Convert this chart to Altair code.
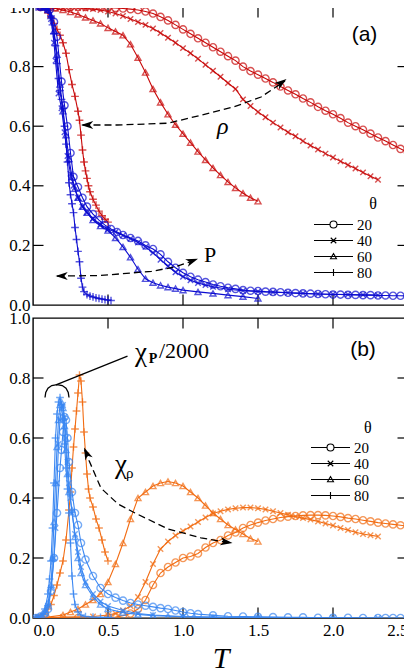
import altair as alt
import pandas as pd

RED = "#c80808"
BLUE = "#0c0cd0"
ORANGE = "#f26c12"
LBLUE = "#3a87f2"

THETAS = ["20", "40", "60", "80"]

# ---------------- panel (a): rho (red) ----------------
RHO20_T = [0.05,0.1,0.15,0.2,0.25,0.3,0.35,0.4,0.45,0.5,0.55,0.6,0.65,0.7,0.75,0.8,0.85,0.9,0.95,1.0,1.05,1.1,1.15,1.2,1.25,1.3,1.35,1.4,1.45,1.5,1.55,1.6,1.65,1.7,1.75,1.8,1.85,1.9,1.95,2.0,2.05,2.1,2.15,2.2,2.25,2.3,2.35,2.4,2.45,2.5]
RHO20 = [1.0,1.0,1.0,1.0,1.0,1.0,1.0,1.0,0.999,0.998,0.997,0.995,0.993,0.99,0.985,0.978,0.967,0.955,0.94,0.925,0.91,0.895,0.88,0.865,0.85,0.835,0.82,0.80,0.785,0.773,0.76,0.747,0.733,0.72,0.707,0.693,0.68,0.665,0.652,0.64,0.627,0.612,0.60,0.588,0.575,0.562,0.55,0.537,0.524,0.512]

RHO40_T = [0.05,0.1,0.15,0.2,0.25,0.3,0.35,0.4,0.45,0.5,0.55,0.6,0.65,0.7,0.75,0.8,0.85,0.9,0.95,1.0,1.05,1.1,1.15,1.2,1.25,1.3,1.35,1.4,1.45,1.5,1.55,1.6,1.65,1.7,1.75,1.8,1.85,1.9,1.95,2.0,2.05,2.1,2.15,2.2,2.25,2.3]
RHO40 = [1.0,1.0,1.0,0.999,0.998,0.997,0.995,0.993,0.99,0.985,0.978,0.97,0.96,0.95,0.94,0.928,0.913,0.897,0.88,0.862,0.845,0.826,0.806,0.786,0.766,0.745,0.725,0.69,0.668,0.648,0.63,0.612,0.596,0.58,0.566,0.55,0.535,0.522,0.508,0.495,0.482,0.47,0.458,0.445,0.432,0.42]

RHO60_T = [0.05,0.1,0.15,0.2,0.25,0.3,0.35,0.4,0.45,0.5,0.55,0.6,0.65,0.7,0.75,0.8,0.85,0.9,0.95,1.0,1.05,1.1,1.15,1.2,1.25,1.3,1.35,1.4,1.45,1.5]
RHO60 = [1.0,0.998,0.995,0.99,0.983,0.975,0.965,0.955,0.945,0.93,0.918,0.905,0.875,0.83,0.78,0.725,0.68,0.64,0.605,0.575,0.545,0.515,0.487,0.46,0.436,0.413,0.393,0.375,0.36,0.348]

RHO80_T = [0.05,0.08,0.1,0.12,0.14,0.16,0.18,0.2,0.22,0.24,0.26,0.28,0.3,0.31,0.32,0.33,0.34,0.35,0.36,0.37,0.38,0.4,0.42,0.44,0.46,0.48,0.5]
RHO80 = [1.0,0.993,0.98,0.965,0.945,0.925,0.905,0.88,0.845,0.79,0.74,0.7,0.65,0.62,0.57,0.52,0.48,0.45,0.425,0.4,0.38,0.355,0.335,0.315,0.3,0.288,0.278]

# ---------------- panel (a): P (blue) ----------------
P20_T = [0.05,0.08,0.11,0.14,0.16,0.19,0.21,0.23,0.25,0.27,0.3,0.33,0.36,0.4,0.44,0.48,0.52,0.56,0.6,0.65,0.7,0.75,0.8,0.85,0.9,0.95,1.0,1.05,1.1,1.15,1.2,1.25,1.3,1.35,1.4,1.45,1.5,1.55,1.6,1.65,1.7,1.75,1.8,1.85,1.9,1.95,2.0,2.05,2.1,2.15,2.2,2.25,2.3,2.35,2.4,2.45,2.5]
P20 = [1.0,1.0,0.99,0.95,0.9,0.75,0.67,0.6,0.51,0.43,0.396,0.36,0.33,0.305,0.285,0.268,0.255,0.245,0.235,0.225,0.215,0.2,0.188,0.17,0.145,0.125,0.108,0.095,0.085,0.077,0.069,0.063,0.058,0.054,0.05,0.048,0.047,0.045,0.044,0.043,0.041,0.04,0.039,0.038,0.037,0.036,0.035,0.035,0.034,0.034,0.033,0.033,0.032,0.032,0.031,0.031,0.03]

P40_T = [0.05,0.08,0.1,0.12,0.14,0.15,0.17,0.19,0.21,0.23,0.25,0.27,0.3,0.33,0.36,0.4,0.45,0.5,0.55,0.6,0.65,0.7,0.75,0.8,0.85,0.9,0.95,1.0,1.05,1.1,1.15,1.2,1.3,1.4,1.5,1.6,1.7,1.8,1.9,2.0,2.1,2.2,2.3]
P40 = [1.0,0.998,0.99,0.96,0.88,0.82,0.71,0.66,0.58,0.5,0.44,0.4,0.36,0.33,0.31,0.29,0.27,0.255,0.245,0.233,0.222,0.21,0.195,0.175,0.152,0.13,0.11,0.095,0.083,0.074,0.067,0.061,0.053,0.048,0.045,0.043,0.041,0.039,0.037,0.036,0.035,0.034,0.033]

P60_T = [0.05,0.08,0.1,0.12,0.14,0.16,0.18,0.2,0.22,0.24,0.26,0.28,0.3,0.33,0.36,0.4,0.45,0.5,0.55,0.6,0.65,0.7,0.75,0.8,0.85,0.9,0.95,1.0,1.1,1.2,1.3,1.4,1.5]
P60 = [1.0,1.0,0.99,0.97,0.92,0.84,0.74,0.65,0.57,0.49,0.43,0.39,0.36,0.33,0.31,0.285,0.265,0.25,0.225,0.195,0.16,0.12,0.088,0.075,0.066,0.06,0.055,0.05,0.044,0.039,0.033,0.028,0.022]

P80_T = [0.02,0.05,0.08,0.1,0.12,0.13,0.14,0.15,0.16,0.17,0.18,0.19,0.2,0.21,0.22,0.23,0.24,0.25,0.26,0.27,0.28,0.29,0.3,0.31,0.32,0.33,0.34,0.36,0.38,0.4,0.42,0.44,0.46,0.48,0.5,0.52]
P80 = [1.0,1.0,0.998,0.99,0.97,0.94,0.91,0.87,0.81,0.76,0.72,0.69,0.66,0.6,0.54,0.48,0.41,0.37,0.34,0.31,0.26,0.22,0.18,0.145,0.09,0.06,0.045,0.035,0.03,0.027,0.024,0.022,0.02,0.018,0.017,0.015]

# ---------------- panel (b): chi_rho (orange) ----------------
XR20_T = [0.05,0.3,0.5,0.55,0.6,0.65,0.7,0.75,0.8,0.85,0.9,0.95,1.0,1.05,1.1,1.15,1.2,1.25,1.3,1.35,1.4,1.45,1.5,1.55,1.6,1.65,1.7,1.75,1.8,1.85,1.9,1.95,2.0,2.05,2.1,2.15,2.2,2.25,2.3,2.35,2.4,2.45,2.5]
XR20 = [0.0,0.0,0.0,0.003,0.008,0.015,0.03,0.06,0.11,0.15,0.17,0.185,0.2,0.205,0.215,0.235,0.25,0.26,0.275,0.285,0.3,0.31,0.318,0.325,0.33,0.335,0.338,0.34,0.342,0.343,0.343,0.342,0.34,0.337,0.333,0.33,0.326,0.322,0.318,0.315,0.312,0.309,0.306]

XR40_T = [0.05,0.2,0.4,0.5,0.55,0.6,0.65,0.7,0.75,0.8,0.85,0.9,0.95,1.0,1.05,1.1,1.15,1.2,1.25,1.3,1.35,1.4,1.45,1.5,1.55,1.6,1.65,1.7,1.75,1.8,1.85,1.9,1.95,2.0,2.05,2.1,2.15,2.2,2.25,2.3]
XR40 = [0.0,0.003,0.005,0.01,0.015,0.025,0.04,0.07,0.12,0.18,0.23,0.255,0.275,0.29,0.305,0.32,0.335,0.348,0.356,0.362,0.366,0.368,0.368,0.366,0.362,0.356,0.35,0.344,0.338,0.333,0.328,0.322,0.315,0.308,0.3,0.293,0.286,0.28,0.276,0.272]

XR60_T = [0.02,0.1,0.2,0.25,0.3,0.35,0.4,0.45,0.5,0.55,0.6,0.65,0.7,0.75,0.8,0.85,0.9,0.95,1.0,1.05,1.1,1.15,1.2,1.25,1.3,1.35,1.4,1.45,1.5]
XR60 = [0.0,0.003,0.01,0.02,0.03,0.045,0.06,0.08,0.12,0.18,0.25,0.33,0.4,0.42,0.44,0.45,0.455,0.45,0.44,0.42,0.4,0.375,0.35,0.33,0.31,0.295,0.28,0.265,0.255]

XR80_T = [0.02,0.05,0.08,0.1,0.12,0.14,0.16,0.18,0.2,0.22,0.24,0.25,0.26,0.27,0.28,0.29,0.3,0.31,0.32,0.33,0.34,0.35,0.36,0.37,0.38,0.4,0.42,0.44,0.46,0.48,0.5]
XR80 = [0.0,0.003,0.015,0.03,0.045,0.075,0.11,0.15,0.19,0.26,0.36,0.42,0.5,0.57,0.63,0.69,0.75,0.81,0.79,0.72,0.62,0.55,0.48,0.43,0.4,0.37,0.33,0.3,0.26,0.22,0.19]

# ---------------- panel (b): chi_P / 2000 (light blue) ----------------
XP20_T = [0.02,0.05,0.08,0.1,0.12,0.14,0.16,0.18,0.19,0.2,0.21,0.22,0.23,0.24,0.26,0.28,0.3,0.32,0.35,0.4,0.45,0.5,0.55,0.6,0.65,0.7,0.75,0.8,0.85,0.9,0.95,1.0,1.05,1.1,1.2,1.3,1.4,1.5,1.6,1.7,1.8,1.9,2.0,2.1,2.2,2.3,2.35,2.4,2.45,2.5]
XP20 = [0.0,0.005,0.015,0.03,0.09,0.2,0.35,0.5,0.56,0.62,0.67,0.66,0.6,0.52,0.42,0.35,0.31,0.25,0.195,0.14,0.1,0.08,0.068,0.058,0.05,0.045,0.041,0.037,0.033,0.03,0.025,0.02,0.016,0.013,0.009,0.006,0.005,0.004,0.003,0.002,0.002,0.001,0.001,0.001,0.0,0.0,0.0,0.0,0.0,0.0]

XP40_T = [0.02,0.05,0.08,0.1,0.12,0.14,0.15,0.16,0.17,0.18,0.19,0.2,0.21,0.22,0.23,0.24,0.25,0.26,0.28,0.3,0.32,0.35,0.4,0.45,0.5,0.6,0.7,0.8,1.0,1.2,1.5,2.0,2.3]
XP40 = [0.0,0.004,0.015,0.04,0.1,0.2,0.3,0.45,0.58,0.66,0.7,0.71,0.67,0.6,0.52,0.45,0.4,0.35,0.28,0.22,0.17,0.12,0.08,0.055,0.04,0.025,0.015,0.01,0.005,0.003,0.002,0.001,0.0]

XP60_T = [0.02,0.05,0.08,0.1,0.12,0.13,0.14,0.15,0.16,0.17,0.18,0.19,0.2,0.21,0.22,0.23,0.24,0.26,0.28,0.3,0.32,0.35,0.4,0.45,0.5,0.6,0.7,0.8,0.9,1.0,1.2,1.5]
XP60 = [0.0,0.004,0.02,0.05,0.11,0.2,0.32,0.45,0.57,0.66,0.71,0.72,0.7,0.64,0.56,0.48,0.42,0.36,0.27,0.2,0.15,0.11,0.07,0.045,0.03,0.018,0.012,0.008,0.006,0.004,0.002,0.001]

XP80_T = [0.02,0.05,0.08,0.1,0.11,0.12,0.13,0.14,0.15,0.16,0.17,0.18,0.19,0.2,0.21,0.22,0.23,0.24,0.25,0.26,0.27,0.28,0.3,0.32,0.35,0.4,0.45,0.5,0.52]
XP80 = [0.0,0.005,0.03,0.08,0.13,0.19,0.3,0.45,0.6,0.68,0.72,0.735,0.71,0.66,0.58,0.5,0.43,0.35,0.25,0.14,0.08,0.045,0.02,0.01,0.005,0.003,0.002,0.002,0.001]

# ---------------- annotations ----------------
RHO_ARROW_T = [0.33, 0.56, 0.9, 1.12, 1.34, 1.52, 1.68]
RHO_ARROW_V = [0.604, 0.604, 0.61, 0.637, 0.665, 0.698, 0.752]
P_ARROW_T = [0.16, 0.45, 0.79, 0.94, 1.09]
P_ARROW_V = [0.097, 0.099, 0.113, 0.127, 0.152]
HEADS_A_T = [0.32, 1.69, 0.15, 1.1]
HEADS_A_V = [0.604, 0.758, 0.097, 0.155]
HEADS_A_ANG = [180, 324, 180, 340]

XR_ARROW_T = [0.345, 0.375, 0.453, 0.567, 0.68, 0.9, 1.12, 1.32]
XR_ARROW_V = [0.56, 0.523, 0.433, 0.38, 0.35, 0.297, 0.267, 0.25]
HEADS_B_T = [0.34, 1.33]
HEADS_B_V = [0.568, 0.25]
HEADS_B_ANG = [246, 8]
XP_LINE_T = [0.153, 0.63]
XP_LINE_V = [0.777, 0.873]
ARC_T = [0.08, 0.085, 0.1, 0.125, 0.16, 0.195, 0.22, 0.235, 0.24]
ARC_V = [0.735, 0.752, 0.766, 0.775, 0.778, 0.775, 0.766, 0.752, 0.735]

Y_TICKS = [0.2, 0.4, 0.6, 0.8]
X_TICKS = [0.5, 1.0, 1.5, 2.0]
Y_LABELS = [0.0, 0.2, 0.4, 0.6, 0.8, 1.0]
X_LABELS = [0.0, 0.5, 1.0, 1.5, 2.0, 2.5]

X_PATH = "M-1,-1L1,1M-1,1L1,-1"
PLUS_PATH = "M-1,0L1,0M0,-1L0,1"
HEAD_PATH = "M0,0L-2,-0.65L-1.45,0L-2,0.65Z"
LEG_PATHS = [
    "M-3.9,0L-0.7,0M0.7,0L3.9,0M-0.7,0A0.7,0.7,0,1,1,0.7,0A0.7,0.7,0,1,1,-0.7,0",
    "M-3.9,0L3.9,0M-0.55,-0.55L0.55,0.55M-0.55,0.55L0.55,-0.55",
    "M-3.9,0L3.9,0M0,-0.6L0.6,0.45L-0.6,0.45Z",
    "M-3.9,0L3.9,0M0,-0.7L0,0.7",
]
SHAPES = {"20": ("circle", 52), "40": (X_PATH, 30), "60": ("triangle-up", 36), "80": (PLUS_PATH, 60)}

SERIF = "Liberation Serif"


def xenc(bottom, field="T"):
    if bottom:
        ax = alt.Axis(values=X_LABELS, format=".1f", title="T", titleFont=SERIF,
                      titleFontStyle="italic", titleFontSize=30, titleFontWeight="normal",
                      titlePadding=5, labelPadding=4)
    else:
        ax = None
    return alt.X(f"{field}:Q", scale=alt.Scale(domain=[0, 2.5], nice=False, zero=False), axis=ax)


def yenc(field="v"):
    return alt.Y(f"{field}:Q", scale=alt.Scale(domain=[0, 1], nice=False, zero=False),
                 axis=alt.Axis(values=Y_LABELS, format=".1f", title=None, labelPadding=3))


def series(T, V, color, theta, bottom):
    df = pd.DataFrame({"T": T, "v": V})
    shape, size = SHAPES[theta]
    base = alt.Chart(df)
    line = base.mark_line(color=color, strokeWidth=1.1, clip=True).encode(x=xenc(bottom), y=yenc())
    pts = base.mark_point(shape=shape, size=size, color=color, filled=False,
                          strokeWidth=1.4, clip=True).encode(x=xenc(bottom), y=yenc())
    return [line, pts]


def frame_ticks(bottom):
    yt = pd.DataFrame({"v": Y_TICKS})
    xt = pd.DataFrame({"T": X_TICKS})
    k = dict(color="black", strokeWidth=1.2)
    dx = 0.07
    dy = 0.035
    layers = [
        alt.Chart(yt).mark_rule(**k).encode(x=xenc(bottom, "a"), x2="b:Q", y=yenc()).transform_calculate(a="0", b=str(dx)),
        alt.Chart(yt).mark_rule(**k).encode(x=xenc(bottom, "a"), x2="b:Q", y=yenc()).transform_calculate(a=str(2.5 - dx), b="2.5"),
        alt.Chart(xt).mark_rule(**k).encode(x=xenc(bottom), y=yenc("a"), y2="b:Q").transform_calculate(a="0", b=str(dy)),
        alt.Chart(xt).mark_rule(**k).encode(x=xenc(bottom), y=yenc("a"), y2="b:Q").transform_calculate(a=str(1 - dy), b="1"),
    ]
    return layers


def legend_layer(bottom, lx, ly):
    df = pd.DataFrame({"T": [1.0] * 4, "v": [-1.0] * 4, "theta": THETAS})
    return alt.Chart(df).mark_point(clip=True, filled=False).encode(
        x=xenc(bottom), y=yenc(),
        shape=alt.Shape("theta:N", scale=alt.Scale(domain=THETAS, range=LEG_PATHS),
                        legend=alt.Legend(title=None, orient="none", legendX=lx, legendY=ly,
                                          symbolSize=100, symbolStrokeColor="black",
                                          symbolFillColor="white", symbolStrokeWidth=1.1,
                                          symbolOpacity=1,
                                          labelFont=SERIF, labelFontSize=15, labelColor="black",
                                          rowPadding=-1, labelOffset=16, padding=0)))


def dashed(T, V, bottom, dash=True):
    df = pd.DataFrame({"T": T, "v": V})
    kw = dict(color="black", strokeWidth=1.3, clip=True)
    if dash:
        kw["strokeDash"] = [7, 4]
    return alt.Chart(df).mark_line(**kw).encode(x=xenc(bottom), y=yenc())


def heads(T, V, A, bottom):
    df = pd.DataFrame({"T": T, "v": V, "ang": A})
    return alt.Chart(df).mark_point(shape=HEAD_PATH, size=150, filled=True, color="black",
                                    opacity=1, strokeWidth=0).encode(
        x=xenc(bottom), y=yenc(), angle=alt.Angle("ang:Q", scale=None))


def label(t, v, text, bottom, **kw):
    df = pd.DataFrame({"T": [t], "v": [v]})
    return alt.Chart(df).mark_text(text=text, color="black", **kw).encode(x=xenc(bottom), y=yenc())


# ---------------- panel (a) ----------------
layers_a = []
layers_a += frame_ticks(False)
for th, T, V in [("20", RHO20_T, RHO20), ("40", RHO40_T, RHO40), ("60", RHO60_T, RHO60), ("80", RHO80_T, RHO80)]:
    layers_a += series(T, V, RED, th, False)
for th, T, V in [("20", P20_T, P20), ("40", P40_T, P40), ("60", P60_T, P60), ("80", P80_T, P80)]:
    layers_a += series(T, V, BLUE, th, False)
layers_a += [
    dashed(RHO_ARROW_T, RHO_ARROW_V, False),
    dashed(P_ARROW_T, P_ARROW_V, False),
    heads(HEADS_A_T, HEADS_A_V, HEADS_A_ANG, False),
    label(1.265, 0.597, "ρ", False, font=SERIF, fontSize=24, fontStyle="italic"),
    label(1.18, 0.168, "P", False, font=SERIF, fontSize=22),
    label(2.21, 0.905, "(a)", False, font="Liberation Sans", fontSize=21),
    label(2.267, 0.339, "θ", False, font=SERIF, fontSize=16),
    legend_layer(False, 293, 210),
]
panel_a = alt.layer(*layers_a).properties(width=375, height=298)

# ---------------- panel (b) ----------------
layers_b = []
layers_b += frame_ticks(True)
for th, T, V in [("20", XR20_T, XR20), ("40", XR40_T, XR40), ("60", XR60_T, XR60), ("80", XR80_T, XR80)]:
    layers_b += series(T, V, ORANGE, th, True)
for th, T, V in [("20", XP20_T, XP20), ("40", XP40_T, XP40), ("60", XP60_T, XP60), ("80", XP80_T, XP80)]:
    layers_b += series(T, V, LBLUE, th, True)
layers_b += [
    dashed(XR_ARROW_T, XR_ARROW_V, True),
    heads(HEADS_B_T, HEADS_B_V, HEADS_B_ANG, True),
    dashed(XP_LINE_T, XP_LINE_V, True, dash=False),
    dashed(ARC_T, ARC_V, True, dash=False),
    label(0.72, 0.885, "χ", True, font=SERIF, fontSize=27),
    label(0.80, 0.862, "P", True, font=SERIF, fontSize=14, fontWeight="bold"),
    label(0.84, 0.89, "/2000", True, font=SERIF, fontSize=22, align="left"),
    label(0.587, 0.51, "χ", True, font=SERIF, fontSize=27),
    label(0.645, 0.485, "ρ", True, font=SERIF, fontSize=15),
    label(2.2, 0.895, "(b)", True, font="Liberation Sans", fontSize=21),
    label(2.233, 0.633, "θ", True, font=SERIF, fontSize=16),
    legend_layer(True, 290, 122),
]
panel_b = alt.layer(*layers_b).properties(width=375, height=300)

chart = alt.vconcat(panel_a, panel_b, spacing=-6).resolve_scale(
    shape="independent"
).resolve_legend(shape="independent").properties(
    padding={"left": 0, "top": -11, "right": -6, "bottom": 0}
).configure_view(stroke="black", strokeWidth=1.4).configure_axis(
    grid=False, ticks=False, domain=False, labelFont=SERIF, labelFontSize=17, labelColor="black"
)

chart.save("out.html", embed_options={"renderer": "svg", "actions": False})
